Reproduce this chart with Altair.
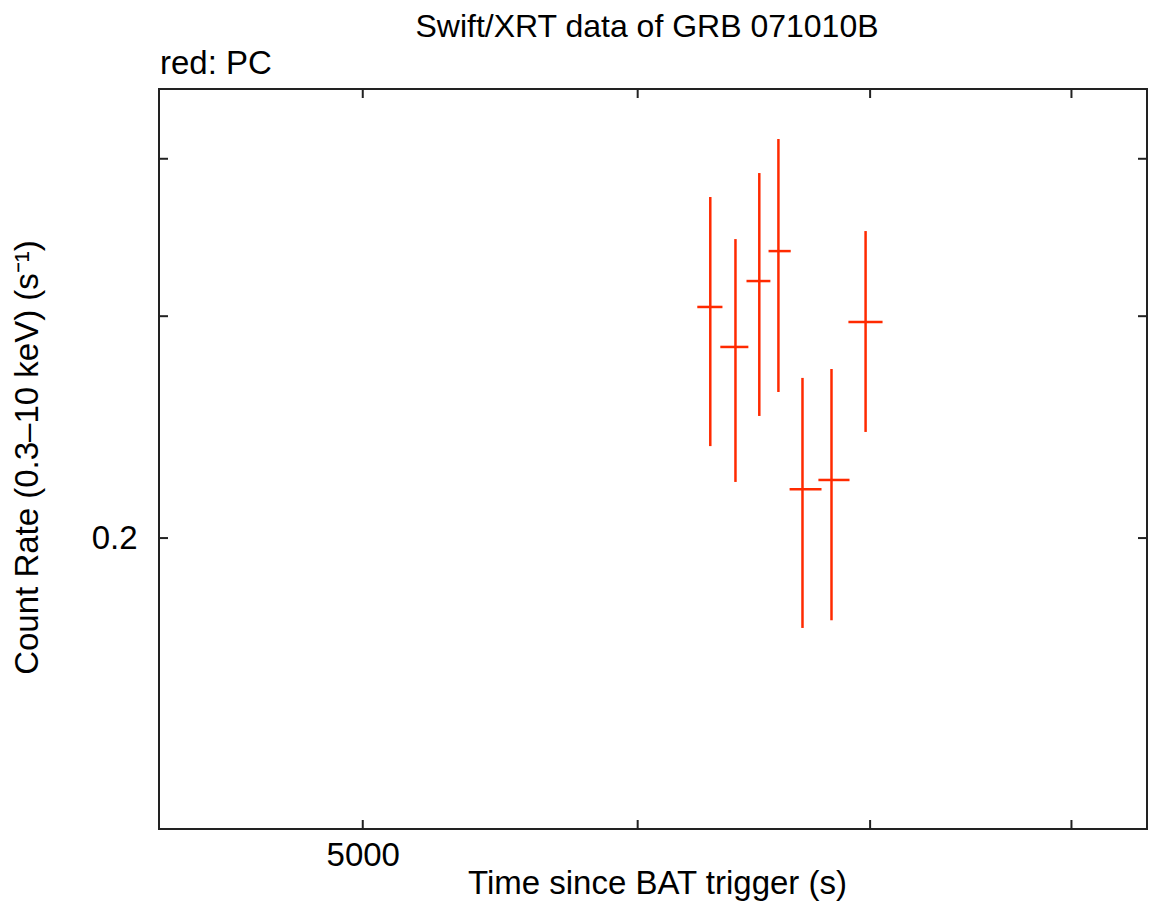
import altair as alt
import pandas as pd

# Data (Swift/XRT PC mode)
time_s = [6296, 6402, 6504, 6587, 6693, 6823, 6979]
time_lo = [6242, 6338, 6449, 6544, 6636, 6764, 6900]
time_hi = [6347, 6457, 6552, 6641, 6778, 6905, 7058]
rate = [0.3051, 0.2836, 0.3199, 0.3379, 0.2187, 0.2224, 0.2968]
rate_lo = [0.2366, 0.2216, 0.2500, 0.2612, 0.1697, 0.1721, 0.2428]
rate_hi = [0.3730, 0.3454, 0.3897, 0.4147, 0.2680, 0.2724, 0.3505]

x_ticks = [5000, 6000, 7000, 8000]
y_ticks = [0.2, 0.3, 0.4]
x_labels = [5000]
y_labels = [0.2]

df = pd.DataFrame({"t": time_s, "tlo": time_lo, "thi": time_hi,
                   "r": rate, "rlo": rate_lo, "rhi": rate_hi})
xt = pd.DataFrame({"v": x_ticks})
yt = pd.DataFrame({"v": y_ticks})

W, H = 988, 740
FONT = "Liberation Sans"
RED = "#ff2a00"
FS = 33

xscale = alt.Scale(type="log", domain=[4368, 8411], nice=False)
yscale = alt.Scale(type="log", domain=[0.11752, 0.4544], nice=False)

xaxis = alt.Axis(values=x_labels, format="d", ticks=False, domain=False, grid=False,
                 labelFont=FONT, labelFontSize=FS, labelColor="black",
                 labelBaseline="alphabetic", labelPadding=36,
                 title="Time since BAT trigger (s)", titleFont=FONT, titleFontSize=FS,
                 titleFontWeight="normal", titleColor="black",
                 titleBaseline="alphabetic", titleY=64, titleX=498)
yaxis = alt.Axis(values=y_labels, format=".1f", ticks=False, domain=False, grid=False,
                 labelFont=FONT, labelFontSize=FS, labelColor="black",
                 labelBaseline="middle", labelPadding=22,
                 title="Count Rate (0.3–10 keV) (s⁻¹)", titleFont=FONT, titleFontSize=FS,
                 titleFontWeight="normal", titleColor="black",
                 titleX=-115, titleY=368)

vbars = alt.Chart(df).mark_rule(color=RED, strokeWidth=2.5).encode(
    x=alt.X("t:Q", scale=xscale, axis=xaxis),
    y=alt.Y("rlo:Q", scale=yscale, axis=yaxis),
    y2="rhi:Q",
)
hbars = alt.Chart(df).mark_rule(color=RED, strokeWidth=2.5).encode(
    x=alt.X("tlo:Q", scale=xscale, axis=xaxis),
    x2="thi:Q",
    y=alt.Y("r:Q", scale=yscale, axis=yaxis),
)

TK = 9
tick_color = "#222222"
xb = alt.Chart(xt).mark_rule(color=tick_color, strokeWidth=2).encode(
    x=alt.X("v:Q", scale=xscale, axis=xaxis), y=alt.value(H), y2=alt.value(H - TK))
xtp = alt.Chart(xt).mark_rule(color=tick_color, strokeWidth=2).encode(
    x=alt.X("v:Q", scale=xscale, axis=xaxis), y=alt.value(0), y2=alt.value(TK))
yl = alt.Chart(yt).mark_rule(color=tick_color, strokeWidth=2).encode(
    y=alt.Y("v:Q", scale=yscale, axis=yaxis), x=alt.value(0), x2=alt.value(TK))
yr = alt.Chart(yt).mark_rule(color=tick_color, strokeWidth=2).encode(
    y=alt.Y("v:Q", scale=yscale, axis=yaxis), x=alt.value(W), x2=alt.value(W - TK))

title_txt = alt.Chart(pd.DataFrame({"s": ["Swift/XRT data of GRB 071010B"]})).mark_text(
    font=FONT, fontSize=32, color="black", align="center", baseline="alphabetic"
).encode(text="s:N", x=alt.value(488), y=alt.value(-52))
sub_txt = alt.Chart(pd.DataFrame({"s": ["red: PC"]})).mark_text(
    font=FONT, fontSize=FS, color="black", align="left", baseline="alphabetic"
).encode(text="s:N", x=alt.value(1), y=alt.value(-15))

chart = alt.layer(vbars, hbars, xb, xtp, yl, yr, title_txt, sub_txt).properties(
    width=W, height=H,
    autosize=alt.AutoSizeParams(type="none"),
    padding={"left": 151, "top": 81, "right": 1, "bottom": 80},
    background="white",
).configure_view(stroke="#222222", strokeWidth=2)

chart.save("out.html", embed_options={"renderer": "svg", "actions": False})
